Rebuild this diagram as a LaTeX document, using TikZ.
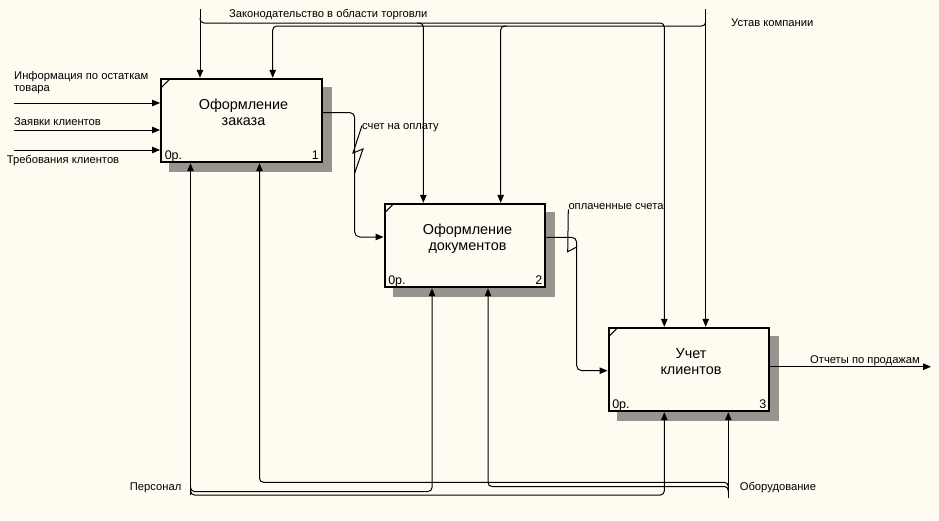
\documentclass[tikz,border=0pt]{standalone}
\usepackage{fontspec}
\setmainfont{Liberation Sans}
\usetikzlibrary{arrows.meta,backgrounds}
\definecolor{bgc}{RGB}{255,251,240}
\definecolor{shd}{RGB}{150,148,142}
\begin{document}
\begin{tikzpicture}[x=1pt,y=-1pt,
  box/.style={draw, line width=2.4pt, fill=bgc, minimum width=160.5pt, minimum height=83pt, inner sep=0pt},
  boxtxt/.style={font=\fontsize{14.4}{16}\selectfont, inner sep=0pt, align=center},
  numtxt/.style={font=\fontsize{12.5}{14}\selectfont, inner sep=0pt},
  lbl/.style={font=\fontsize{11.2}{12.7}\selectfont, inner sep=0pt},
  arr/.style={line width=1pt, -{Triangle[length=8pt,width=6.5pt]}},
  ln/.style={line width=1pt},
  shadowfill/.style={fill=shd},
  rc/.style={rounded corners=4pt}]
\useasboundingbox (0,0) rectangle (939,520);

% boxes
\node[box] (b1) at (241.5,120.5) {};
\node[box] (b2) at (465,245.5) {};
\node[box] (b3) at (689,369.5) {};

\begin{scope}[on background layer]
  \fill[bgc] (0,0) rectangle (939,520);
  \foreach \b in {b1,b2,b3}
    \path[shadowfill] ([shift={(9pt,-9pt)}]\b.north west) rectangle ([shift={(9pt,-9pt)}]\b.south east);
\end{scope}

\foreach \b in {b1,b2,b3}
  \draw[ln] ([shift={(1pt,-10pt)}]\b.north west) -- ([shift={(10pt,-1pt)}]\b.north west);

\node[boxtxt, anchor=base] (b1t) at (243.5,125.5) {Оформление\\заказа};
\node[boxtxt, anchor=base] (b2t) at (467.5,250) {Оформление\\документов};
\node[boxtxt, anchor=base] (b3t) at (691,374) {Учет\\клиентов};

\node[numtxt, anchor=base west] (b1p) at ([shift={(4.5pt,4pt)}]b1.south west) {0р.};
\node[numtxt, anchor=base west] (b2p) at ([shift={(4.5pt,4pt)}]b2.south west) {0р.};
\node[numtxt, anchor=base west] (b3p) at ([shift={(4.5pt,4pt)}]b3.south west) {0р.};
\node[numtxt, anchor=base east] (b1n) at ([shift={(-4pt,4pt)}]b1.south east) {1};
\node[numtxt, anchor=base east] (b2n) at ([shift={(-4pt,4pt)}]b2.south east) {2};
\node[numtxt, anchor=base east] (b3n) at ([shift={(-4pt,4pt)}]b3.south east) {3};

% inputs
\coordinate (i1) at (14,103);
\coordinate (i2) at (14,130);
\coordinate (i3) at (14,150);
\draw[arr] (i1) -- (i1 -| b1.west);
\draw[arr] (i2) -- (i2 -| b1.west);
\draw[arr] (i3) -- (i3 -| b1.west);
\node[lbl, anchor=base west, align=left] (t1) at (14,91.7) {Информация по остаткам\\товара};
\node[lbl, anchor=base west] (t2) at (14,125) {Заявки клиентов};
\node[lbl, anchor=base west] (t3) at (6.7,163.3) {Требования клиентов};

% controls
\coordinate (zak) at (200,9);
\coordinate (zj1) at (200,23);
\coordinate (zj2) at (423.3,23);
\coordinate (zc3) at (664.3,23);
\draw[arr] (zak) -- (zak |- b1.north);
\draw[arr,rc] ([yshift=5pt]zj1) -- (zj1) -- (zc3) -- (zc3 |- b3.north);
\draw[arr,rc] ([xshift=-6pt]zj2) -- (zj2) -- (zj2 |- b2.north);
\node[lbl, anchor=base west] (zl) at (229,17.3) {Законодательство в области торговли};

\coordinate (ust) at (705.7,9);
\coordinate (uj1) at (705.7,26);
\coordinate (uj2) at (500.7,26);
\coordinate (uc1) at (272.7,26);
\draw[arr] (ust) -- (ust |- b3.north);
\draw[arr,rc] ([yshift=5pt]uj1) -- (uj1) -- (uc1) -- (uc1 |- b1.north);
\draw[arr,rc] ([xshift=6pt]uj2) -- (uj2) -- (uj2 |- b2.north);
\node[lbl, anchor=base west] (ul) at (731,26) {Устав компании};

% outputs
\coordinate (s1) at (354.7,173);
\draw[arr,rounded corners=5pt] ([yshift=8pt]b1.east) -| (s1) |- ([yshift=8.5pt]b2.west);
\node[lbl, anchor=base west] (l1) at (362,129.3) {счет на оплату};
\draw[ln] ([yshift=2pt]l1.west) -- (353,153) -- (363,149) -- (s1);

\coordinate (s2) at (576.7,247);
\draw[arr,rounded corners=5pt] ([yshift=8.2pt]b2.east) -| (s2) |- ([yshift=-1.2pt]b3.west);
\node[lbl, anchor=base west] (l2) at (568.3,209) {оплаченные счета};
\draw[ln] (l2.south west) -- (567.7,251.7) -- (s2);

\coordinate (o3) at (931,366.7);
\draw[arr] (o3 -| b3.east) -- (o3);
\node[lbl, anchor=base west] (l3) at (810,363) {Отчеты по продажам};

% mechanisms
\coordinate (per) at (190.5,495);
\coordinate (pj) at (190.5,491.5);
\coordinate (pc2) at (432,491.5);
\coordinate (pc3) at (664.3,495);
\draw[arr] (per) -- (per |- b1.south);
\draw[arr,rc] ([yshift=6pt]pj) -- (pj) -- (pc2) -- (pc2 |- b2.south);
\draw[arr,rc] ([yshift=6pt]per) -- (per) -- (pc3) -- (pc3 |- b3.south);
\node[lbl, anchor=base east] (pl) at (181.5,490) {Персонал};

\coordinate (obo) at (728.3,498);
\coordinate (oj1) at (728.3,482.3);
\coordinate (oc1) at (259.5,482.3);
\coordinate (oj2) at (728.3,486.5);
\coordinate (oc2) at (488,486.5);
\draw[arr] (obo) -- (obo |- b3.south);
\draw[arr,rc] ([yshift=-6pt]oj1) -- (oj1) -- (oc1) -- (oc1 |- b1.south);
\draw[arr,rc] ([yshift=-6pt]oj2) -- (oj2) -- (oc2) -- (oc2 |- b2.south);
\node[lbl, anchor=base west] (ol) at (739.6,490) {Оборудование};
\end{tikzpicture}
\end{document}
